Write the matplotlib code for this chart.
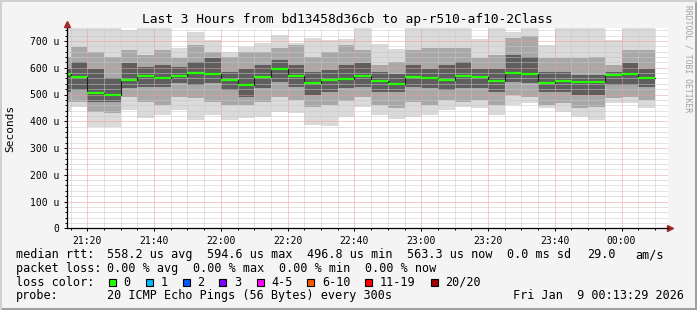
import matplotlib
matplotlib.use("Agg")
import matplotlib.pyplot as plt
from matplotlib.patches import Rectangle
import numpy as np

W, H = 697, 310
MONO = "DejaVu Sans Mono"

title = "Last 3 Hours from bd13458d36cb to ap-r510-af10-2Class"
view_start = "21:13:55"          # left edge of the 3 hour window

# start of each 300 s step
step_times = ["21:10", "21:15", "21:20", "21:25", "21:30", "21:35", "21:40", "21:45",
              "21:50", "21:55", "22:00", "22:05", "22:10", "22:15", "22:20", "22:25",
              "22:30", "22:35", "22:40", "22:45", "22:50", "22:55", "23:00", "23:05",
              "23:10", "23:15", "23:20", "23:25", "23:30", "23:35", "23:40", "23:45",
              "23:50", "23:55", "00:00", "00:05"]

# median rtt per step (us)
median = [578, 565, 507, 496.8, 554, 570, 563, 569, 581, 578, 554, 537,
          565, 594.6, 570, 544, 554, 558, 569, 552, 539, 565, 562, 554,
          569, 565, 552, 581, 578, 544, 552, 546, 546, 573, 578, 563.3]

# smoke bands (us): outer / middle / core, top and bottom
outer_hi = [760, 760, 760, 760, 740, 760, 760, 673, 735, 705, 660, 679,
            694, 722, 694, 710, 705, 706, 760, 690, 670, 760, 760, 760,
            760, 706, 760, 735, 760, 685, 760, 760, 760, 705, 760, 760]
mid_hi = [641, 679, 660, 641, 666, 648, 666, 635, 685, 660, 640, 660,
          660, 672, 685, 640, 660, 685, 666, 610, 620, 666, 672, 672,
          672, 635, 648, 710, 720, 635, 635, 635, 641, 610, 666, 666]
core_hi = [597, 622, 597, 560, 617, 604, 610, 604, 623, 635, 585, 597,
           610, 629, 610, 585, 590, 610, 617, 585, 575, 610, 597, 610,
           622, 597, 597, 648, 641, 585, 585, 573, 573, 585, 617, 597]
core_lo = [510, 517, 473, 473, 523, 529, 529, 542, 535, 542, 517, 492,
           523, 548, 529, 500, 510, 523, 529, 510, 510, 529, 523, 517,
           523, 523, 510, 548, 542, 510, 510, 498, 498, 535, 535, 529]
mid_lo = [472, 473, 436, 430, 492, 473, 461, 492, 486, 473, 461, 461,
          473, 492, 480, 455, 460, 475, 492, 460, 450, 473, 461, 480,
          473, 480, 461, 498, 492, 460, 467, 448, 455, 486, 492, 480]
outer_lo = [435, 455, 380, 380, 442, 411, 423, 442, 405, 423, 405, 411,
            417, 436, 430, 385, 382, 417, 455, 423, 410, 417, 423, 442,
            455, 448, 423, 460, 467, 448, 436, 417, 405, 467, 467, 448]

time_ticks = ["21:20", "21:40", "22:00", "22:20", "22:40", "23:00", "23:20", "23:40", "00:00"]
y_ticks = [0, 100, 200, 300, 400, 500, 600, 700]
y_labels = ["0", "100 u", "200 u", "300 u", "400 u", "500 u", "600 u", "700 u"]

loss_labels = ["0", "1", "2", "3", "4-5", "6-10", "11-19", "20/20"]
loss_colors = ["#26ff00", "#00b8ff", "#0059ff", "#7e00ff", "#ff00ff", "#ff5500", "#ff0000", "#a10000"]


def minutes(t):
    parts = [int(p) for p in t.split(":")]
    h, m = parts[0], parts[1]
    s = parts[2] if len(parts) > 2 else 0
    if h < 12:
        h += 24
    return (h - 21) * 60 + m + s / 60


def fx(px):
    return px / W


def fy(py):
    return 1 - py / H


x = np.array([minutes(t) for t in step_times])
step = 5
x0 = minutes(view_start)
x1 = x0 + 180

fig = plt.figure(figsize=(W / 100, H / 100), dpi=100, facecolor="#f4f4f4")
ax = fig.add_axes([fx(67), fy(228.3), 601 / W, 200.7 / H])
ax.set_facecolor("white")

# smoke
for lo, hi, col in [(outer_lo, outer_hi, "#dadada"),
                    (mid_lo, mid_hi, "#a8a8a8"),
                    (core_lo, core_hi, "#5e5e5e")]:
    lo = np.array(lo)
    hi = np.array(hi)
    ax.bar(x, hi - lo, bottom=lo, width=step, align="edge", color=col,
           linewidth=0, zorder=1)

# median: dark step line + green segments
edges = np.append(x, x[-1] + step)
ax.step(edges, np.append(median, median[-1]), where="post", color="#202020",
        lw=0.8, zorder=3)
ax.hlines(median, x, x + step, color="#26ff00", lw=1.6, zorder=4)

ax.set_xlim(x0, x1)
ax.set_ylim(0, 750)

ax.set_xticks([minutes(t) for t in time_ticks])
ax.set_xticklabels(time_ticks)
ax.set_xticks(np.arange(15, x1, 5), minor=True)
ax.set_yticks(y_ticks)
ax.set_yticklabels(y_labels)
ax.set_yticks(np.arange(0, 750, 20), minor=True)

ax.set_axisbelow(False)
ax.grid(which="minor", color="#c8c8c8", lw=0.72, ls=(0, (1, 1)))
ax.grid(which="major", color="#f09a9a", lw=0.72, ls=(0, (1, 1)))

for s in ["top", "right"]:
    ax.spines[s].set_visible(False)
for s in ["left", "bottom"]:
    ax.spines[s].set_linewidth(0.9)
    ax.spines[s].set_zorder(5)

ax.tick_params(which="major", length=2.5, width=0.7, labelsize=7, pad=3)
ax.tick_params(which="minor", length=1.3, width=0.7)
for lab in ax.get_xticklabels() + ax.get_yticklabels():
    lab.set_family(MONO)

# axis arrows
ax.plot([0, 0], [1, 1.02], color="black", lw=0.9, transform=ax.transAxes, clip_on=False)
ax.plot([1, 1.004], [0, 0], color="black", lw=0.9, transform=ax.transAxes, clip_on=False)
ax.plot(0, 1.02, marker="^", ms=4, color="#a52a2a", transform=ax.transAxes, clip_on=False)
ax.plot(1.004, 0, marker=">", ms=4, color="#a52a2a", transform=ax.transAxes, clip_on=False)

fig.text(fx(347.5), fy(19), title, family=MONO, fontsize=9.3, ha="center", va="center")
fig.text(fx(10), fy(128), "Seconds", family=MONO, fontsize=8, rotation=90,
         ha="center", va="center")
fig.text(fx(688), fy(5), "RRDTOOL / TOBI OETIKER", family=MONO, fontsize=5.8,
         rotation=270, ha="center", va="top", color="#a0a0a0")

# legend lines
LS = 8.5
rows = [
    (254.7, [(16, "median rtt:"), (107.3, "558.2 us avg"), (207.3, "594.6 us max"),
             (306.7, "496.8 us min"), (407.3, "563.3 us now"), (507.3, "0.0 ms sd"),
             (586.7, "29.0"), (635.7, "am/s")]),
    (268.3, [(16, "packet loss:"), (107.3, "0.00 % avg"), (193.3, "0.00 % max"),
             (279.3, "0.00 % min"), (365, "0.00 % now")]),
    (282.3, [(16, "loss color:")]),
    (295.7, [(16, "probe:"), (107.3, "20 ICMP Echo Pings (56 Bytes) every 300s"),
             (513.3, "Fri Jan  9 00:13:29 2026")]),
]
for yy, items in rows:
    for xx, txt in items:
        fig.text(fx(xx), fy(yy), txt, family=MONO, fontsize=LS, ha="left", va="center")

box_x = [108.7, 145.7, 182.7, 219.3, 256.7, 307.3, 365, 430.7]
for bx, lab, col in zip(box_x, loss_labels, loss_colors):
    fig.add_artist(Rectangle((fx(bx), fy(286)), 7 / W, 7 / H, facecolor=col,
                             edgecolor="black", lw=0.8, transform=fig.transFigure))
    fig.text(fx(bx + 14.5), fy(282.3), lab, family=MONO, fontsize=LS, ha="left", va="center")

# image frame
fig.add_artist(Rectangle((0, 0), 1, 2 / H, facecolor="#a0a0a0", lw=0, transform=fig.transFigure))
fig.add_artist(Rectangle((1 - 2 / W, 0), 2 / W, 1, facecolor="#a0a0a0", lw=0, transform=fig.transFigure))
fig.add_artist(Rectangle((0, 1 - 2 / H), 1, 2 / H, facecolor="#d0d0d0", lw=0, transform=fig.transFigure))
fig.add_artist(Rectangle((0, 0), 2 / W, 1, facecolor="#d0d0d0", lw=0, transform=fig.transFigure))

fig.savefig("out.png", dpi=100, facecolor=fig.get_facecolor())
